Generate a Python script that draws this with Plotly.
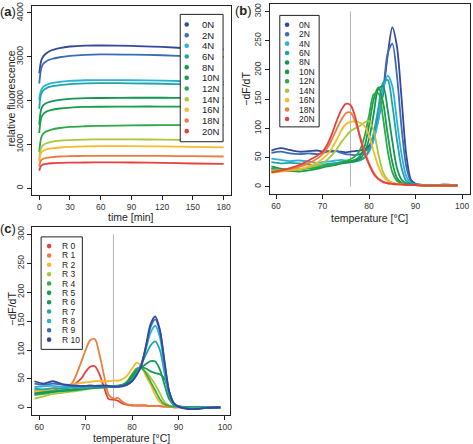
import plotly.graph_objects as go

W, H = 473, 444
FONT = "Liberation Sans, Arial, Helvetica, sans-serif"

# ---------------- panel (a): fluorescence over time ----------------
time_min = [0, 1, 2, 4, 7, 12, 20, 30, 45, 60, 90, 120, 150, 180]
labels_N = ["0N", "2N", "4N", "6N", "8N", "10N", "12N", "14N", "16N", "18N", "20N"]
colors_N = ["#34499C", "#3A6CB6", "#2BB0E2", "#1FA6A3", "#159552", "#179C48",
            "#2EA84A", "#A6C83B", "#F8BA2B", "#EE7C3B", "#E4423F"]

fl_0N = [2620, 2800, 2920, 3010, 3080, 3150, 3200, 3235, 3255, 3258, 3250, 3225, 3190, 3170]
fl_2N = [2390, 2600, 2740, 2840, 2900, 2950, 2990, 3020, 3045, 3055, 3050, 3035, 3010, 2995]
fl_4N = [2020, 2170, 2250, 2315, 2360, 2400, 2430, 2450, 2465, 2470, 2465, 2455, 2440, 2430]
fl_6N = [1810, 2060, 2160, 2235, 2285, 2325, 2355, 2378, 2393, 2400, 2395, 2385, 2370, 2360]
fl_8N = [1450, 1690, 1810, 1895, 1945, 1985, 2018, 2040, 2055, 2060, 2065, 2065, 2060, 2055]
fl_10N = [1260, 1490, 1610, 1695, 1748, 1790, 1820, 1840, 1855, 1860, 1865, 1865, 1860, 1855]
fl_12N = [820, 1040, 1160, 1245, 1298, 1340, 1375, 1400, 1415, 1425, 1435, 1440, 1440, 1440]
fl_14N = [660, 840, 925, 985, 1028, 1060, 1085, 1100, 1110, 1115, 1115, 1110, 1100, 1095]
fl_16N = [610, 750, 815, 858, 888, 910, 930, 945, 955, 960, 960, 955, 945, 935]
fl_18N = [500, 595, 642, 673, 694, 710, 725, 733, 738, 740, 740, 738, 732, 725]
fl_20N = [400, 478, 518, 543, 558, 570, 580, 585, 588, 590, 588, 580, 565, 555]
fluor_series = [fl_0N, fl_2N, fl_4N, fl_6N, fl_8N, fl_10N, fl_12N, fl_14N, fl_16N, fl_18N, fl_20N]

# ---------------- panel (b) and (c): melt curves ----------------
temp_C = [59, 61, 63, 65, 67, 69, 70, 71, 72, 73, 74, 75, 76, 77, 78, 79, 80,
          81, 82, 83, 84, 85, 86, 87, 88, 89, 90, 92, 94, 96, 99]

b_0N = [62, 66, 63, 60, 61, 62, 60, 61, 60, 61, 60, 59, 60, 61, 62, 64, 70,
        88, 120, 160, 225, 273, 240, 150, 55, 12, 5, 3, 2, 3, 3]
b_2N = [58, 60, 57, 56, 57, 56, 58, 60, 62, 61, 58, 56, 55, 54, 56, 60, 66,
        84, 115, 160, 228, 245, 190, 100, 35, 9, 4, 3, 2, 4, 2]
b_4N = [48, 46, 44, 45, 43, 41, 42, 43, 44, 45, 46, 45, 44, 44, 46, 50, 60,
        80, 115, 165, 190, 172, 112, 55, 18, 6, 4, 3, 3, 2, 2]
b_6N = [42, 40, 41, 40, 38, 37, 38, 39, 40, 41, 42, 42, 42, 43, 45, 50, 63,
        92, 135, 178, 183, 140, 80, 32, 10, 5, 4, 3, 2, 3, 2]
b_8N = [35, 31, 30, 30, 32, 33, 35, 36, 37, 38, 40, 41, 42, 44, 48, 58, 82,
        125, 168, 172, 132, 78, 32, 12, 6, 4, 3, 3, 2, 2, 2]
b_10N = [30, 28, 27, 26, 28, 31, 33, 35, 36, 38, 40, 42, 44, 46, 52, 68, 105,
         150, 170, 145, 90, 42, 15, 7, 4, 3, 3, 2, 2, 2, 2]
b_12N = [32, 29, 28, 30, 32, 34, 35, 37, 38, 40, 42, 44, 47, 52, 62, 85, 122,
         158, 160, 118, 62, 25, 10, 5, 4, 3, 3, 2, 2, 2, 2]
b_14N = [28, 29, 30, 30, 33, 37, 40, 46, 54, 64, 76, 86, 95, 100, 104, 110, 113,
         96, 56, 25, 12, 7, 5, 4, 3, 3, 3, 2, 2, 2, 2]
b_16N = [24, 26, 28, 30, 35, 42, 48, 55, 66, 80, 96, 107, 111, 112, 110, 104, 88,
         60, 35, 18, 10, 6, 5, 4, 3, 3, 3, 2, 2, 2, 2]
b_18N = [25, 27, 30, 34, 40, 49, 56, 66, 81, 98, 114, 126, 127, 112, 88, 62, 40,
         24, 14, 9, 6, 5, 4, 4, 3, 3, 3, 2, 2, 2, 2]
b_20N = [25, 28, 32, 37, 45, 54, 60, 72, 90, 112, 131, 142, 140, 120, 86, 58, 38,
         22, 13, 8, 6, 5, 4, 4, 3, 3, 3, 2, 2, 2, 2]
melt_N = [b_0N, b_2N, b_4N, b_6N, b_8N, b_10N, b_12N, b_14N, b_16N, b_18N, b_20N]

labels_R = ["R 0", "R 1", "R 2", "R 3", "R 4", "R 5", "R 6", "R 7", "R 8", "R 9", "R 10"]
colors_R = ["#E4423F", "#EE7C3B", "#F8BA2B", "#A6C83B", "#3AAA48", "#179C48",
            "#139A5C", "#1FA9A5", "#2BB0E2", "#3A6CB6", "#34499C"]

c_R0 = [28, 30, 32, 34, 38, 50, 62, 71, 72, 58, 35, 15, 14, 12, 7, 5, 4,
        4, 4, 4, 3, 3, 3, 2, 2, 1, 1, 1, 0, 1, 0]
c_R1 = [30, 32, 33, 36, 42, 78, 100, 117, 119, 92, 55, 22, 16, 17, 10, 6, 5,
        4, 4, 4, 3, 3, 3, 2, 2, 1, 1, 1, 1, 1, 0]
c_R2 = [28, 30, 33, 37, 40, 43, 44, 45, 46, 46, 46, 46, 47, 47, 50, 56, 68,
        78, 72, 55, 40, 22, 10, 5, 3, 2, 2, 1, 1, 1, 1]
c_R3 = [16, 20, 24, 26, 28, 30, 32, 33, 34, 35, 36, 37, 38, 39, 40, 44, 55,
        66, 68, 62, 52, 40, 25, 10, 4, 2, 2, 1, 1, 1, 1]
c_R4 = [22, 24, 27, 29, 30, 32, 33, 34, 35, 35, 36, 36, 37, 38, 40, 46, 58,
        68, 69, 60, 45, 30, 15, 6, 3, 2, 2, 1, 1, 1, 1]
c_R5 = [25, 27, 29, 30, 32, 33, 34, 35, 35, 36, 36, 37, 37, 38, 40, 45, 55,
        65, 70, 68, 63, 60, 58, 50, 28, 8, 3, 1, 1, 1, 0]
c_R6 = [24, 26, 28, 30, 31, 32, 33, 34, 34, 35, 35, 36, 36, 37, 38, 42, 52,
        62, 70, 76, 81, 80, 66, 40, 15, 5, 2, 1, 0, 1, 0]
c_R7 = [33, 32, 34, 33, 35, 34, 35, 36, 36, 37, 37, 38, 38, 38, 39, 41, 48,
        60, 75, 92, 108, 115, 100, 60, 22, 6, 2, 0, 0, 1, 0]
c_R8 = [36, 37, 38, 36, 37, 36, 36, 37, 38, 39, 38, 37, 37, 37, 38, 40, 46,
        58, 76, 102, 130, 142, 122, 70, 25, 7, 2, 0, -1, 1, 1]
c_R9 = [42, 40, 42, 40, 38, 37, 37, 38, 37, 38, 37, 37, 36, 36, 37, 40, 46,
        57, 75, 105, 140, 153, 132, 78, 28, 8, 2, -1, -2, 0, 1]
c_R10 = [46, 42, 46, 41, 39, 38, 38, 39, 38, 38, 39, 38, 37, 37, 38, 41, 46,
         57, 72, 108, 145, 158, 135, 80, 28, 8, 2, -2, -2, 0, 1]
melt_R = [c_R0, c_R1, c_R2, c_R3, c_R4, c_R5, c_R6, c_R7, c_R8, c_R9, c_R10]

ticks_time = [0, 30, 60, 90, 120, 150, 180]
ticks_fluor = [0, 1000, 2000, 3000, 4000]
ticks_temp = [60, 70, 80, 90, 100]
ticks_dfdt = [0, 50, 100, 150, 200, 250, 300]
ref_temp = 76


def px(x):
    return x / W


def py(y):
    return 1 - y / H


fig = go.Figure()

for name, col, ys in zip(labels_N, colors_N, fluor_series):
    fig.add_trace(go.Scatter(x=time_min, y=ys, mode="lines", name=name,
                             line=dict(color=col, width=1.8, shape="spline", smoothing=0.8),
                             xaxis="x", yaxis="y", showlegend=False))
for name, col, ys in zip(labels_N, colors_N, melt_N):
    fig.add_trace(go.Scatter(x=temp_C, y=ys, mode="lines", name=name,
                             line=dict(color=col, width=1.8, shape="spline", smoothing=0.8),
                             xaxis="x2", yaxis="y2", showlegend=False))
for name, col, ys in zip(labels_R, colors_R, melt_R):
    fig.add_trace(go.Scatter(x=temp_C, y=ys, mode="lines", name=name,
                             line=dict(color=col, width=1.8, shape="spline", smoothing=0.8),
                             xaxis="x3", yaxis="y3", showlegend=False))

tickfont = dict(family=FONT, size=8.5, color="#333")
axcommon = dict(showline=True, mirror=True, linecolor="#222", linewidth=1,
                ticks="outside", ticklen=4, tickcolor="#222", tickwidth=1,
                showgrid=False, zeroline=False, tickfont=tickfont)

fig.update_layout(
    width=W, height=H,
    margin=dict(l=0, r=0, t=0, b=0),
    paper_bgcolor="white", plot_bgcolor="white",
    font=dict(family=FONT, color="#222"),
    xaxis=dict(domain=[px(32), px(232)], range=[-7.2, 187.2], anchor="y",
               tickvals=ticks_time, **axcommon),
    yaxis=dict(domain=[py(193), py(2)], range=[-160, 4160], anchor="x",
               tickvals=ticks_fluor, tickangle=-90, **axcommon),
    xaxis2=dict(domain=[px(270.7), px(471.5)], range=[58.6, 101.6], anchor="y2",
                tickvals=ticks_temp, **axcommon),
    yaxis2=dict(domain=[py(191.5), py(0.5)], range=[-12, 312], anchor="x2",
                tickvals=ticks_dfdt, tickangle=-90, **axcommon),
    xaxis3=dict(domain=[px(32.3), px(231)], range=[58.5, 101.1], anchor="y3",
                tickvals=ticks_temp, **axcommon),
    yaxis3=dict(domain=[py(414.5), py(225.5)], range=[-12, 312], anchor="x3",
                tickvals=ticks_dfdt, tickangle=-90, **axcommon),
)

shapes = []
annotations = []

# reference line at 76 C
for xr, yr in (("x2", "y2"), ("x3", "y3")):
    shapes.append(dict(type="line", xref=xr, yref=yr, x0=ref_temp, x1=ref_temp,
                       y0=0, y1=300, line=dict(color="#B4B4B4", width=1), layer="below"))


def add_legend(box, mx, tx, y0, step, labels, colors, fsize, r=2.3):
    x0, x1, yt, yb = box
    shapes.append(dict(type="rect", xref="paper", yref="paper",
                       x0=px(x0), x1=px(x1), y0=py(yb), y1=py(yt),
                       line=dict(color="#222", width=1), fillcolor="white", layer="above"))
    for i, (lab, col) in enumerate(zip(labels, colors)):
        cy = y0 + i * step
        shapes.append(dict(type="circle", xref="paper", yref="paper",
                           x0=px(mx - r), x1=px(mx + r), y0=py(cy + r), y1=py(cy - r),
                           fillcolor=col, line=dict(width=0), layer="above"))
        annotations.append(dict(text=lab, x=px(tx), y=py(cy), xref="paper", yref="paper",
                                xanchor="left", yanchor="middle", showarrow=False,
                                font=dict(family=FONT, size=fsize, color="#222")))


add_legend((181, 224, 10.5, 139), 187.5, 200.5, 20.7, 10.76, labels_N, colors_N, 9.5)
add_legend((281, 320.5, 11.5, 124), 288.3, 298.5, 21, 9.5, labels_N, colors_N, 8.5)
add_legend((41.3, 82.7, 235, 348.5), 49.3, 60.5, 244.3, 9.44, labels_R, colors_R, 8.5)


# axis titles and panel labels
def note(text, x, y, size=10.5, angle=0, **kw):
    d = dict(text=text, x=px(x), y=py(y), xref="paper", yref="paper", showarrow=False,
             xanchor="center", yanchor="middle", textangle=angle,
             font=dict(family=FONT, size=size, color="#222"))
    d.update(kw)
    annotations.append(d)


note("time [min]", 132, 214.5)
note("relative fluorescence", 11.5, 95, angle=-90)
note("temperature [°C]", 371, 215.5)
note("\u2212dF/dT", 247.5, 85, angle=-90)
note("temperature [°C]", 131.6, 438)
note("\u2212dF/dT", 12.5, 307, angle=-90)
note("(<b>a</b>)", 8, 7.5, size=13)
note("(<b>b</b>)", 244.5, 7, size=13)
note("(<b>c</b>)", 8, 227, size=13)

fig.update_layout(shapes=shapes, annotations=annotations)
fig.write_html("out.html", config={"displayModeBar": False},
               post_script="document.body.style.margin='0px';")
